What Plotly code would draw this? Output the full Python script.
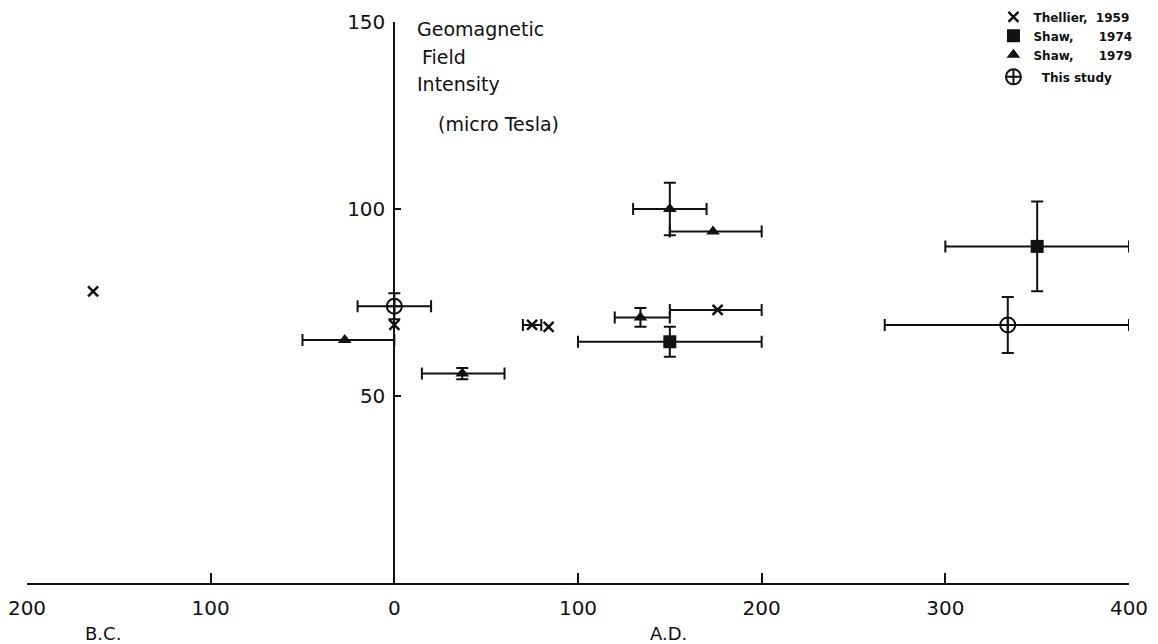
import plotly.graph_objects as go

# ---- data (year: negative = B.C., positive = A.D.; intensity in micro Tesla) ----
thellier_x = [-164, 0, 75, 84, 176]
thellier_y = [78, 69, 69, 68.5, 73]
thellier_ex_minus = [0, 0, 5, 0, 26]
thellier_ex_plus = [0, 0, 5, 0, 24]
thellier_ey = [0, 0, 0, 0, 0]

shaw74_x = [150, 350]
shaw74_y = [64.5, 90]
shaw74_ex_minus = [50, 50]
shaw74_ex_plus = [50, 50]
shaw74_ey = [4, 12]

shaw79_x = [-27, 37, 134, 150, 173.5]
shaw79_y = [65, 56, 71, 100, 94]
shaw79_ex_minus = [23, 22, 14, 20, 23.5]
shaw79_ex_plus = [27, 23, 16, 20, 26.5]
shaw79_ey = [0, 1.5, 2.5, 7, 0]

study_x = [0, 334]
study_y = [74, 69]
study_ex_minus = [20, 67]
study_ex_plus = [20, 66]
study_ey = [3.5, 7.5]

x_tickvals = [-200, -100, 0, 100, 200, 300, 400]
x_ticktext = ["200", "100", "0", "100", "200", "300", "400"]
y_tickvals = [50, 100, 150]
y_ticktext = ["50", "100", "150"]

FONT = "DejaVu Sans"
BLACK = "#111111"

series = [
    ("Thellier,\u00a0\u00a01959", "a", thellier_x, thellier_y, thellier_ex_minus, thellier_ex_plus, thellier_ey,
     dict(symbol="x-thin", size=10, line=dict(width=2.5, color=BLACK), color=BLACK)),
    ("Shaw,\u00a0\u00a0\u00a0\u00a0\u00a0\u00a01974", "a", shaw74_x, shaw74_y, shaw74_ex_minus, shaw74_ex_plus, shaw74_ey,
     dict(symbol="square", size=13, color=BLACK)),
    ("Shaw,\u00a0\u00a0\u00a0\u00a0\u00a0\u00a01979", "a", shaw79_x, shaw79_y, shaw79_ex_minus, shaw79_ex_plus, shaw79_ey,
     dict(symbol="triangle-up", size=12, color=BLACK)),
    ("\u00a0\u00a0This study", "b", study_x, study_y, study_ex_minus, study_ex_plus, study_ey,
     dict(symbol="circle-cross-open", size=15, line=dict(width=2, color=BLACK), color=BLACK)),
]

fig = go.Figure()
for name, grp, xs, ys, exm, exp, ey, mk in series:
    for i in range(len(xs)):
        has_ex = (exm[i] > 0 or exp[i] > 0)
        has_ey = ey[i] > 0
        fig.add_trace(go.Scatter(
            x=[xs[i]], y=[ys[i]], mode="markers", name=name,
            legendgroup=grp, showlegend=(i == 0),
            marker=mk,
            error_x=dict(type="data", symmetric=False, array=[exp[i]], arrayminus=[exm[i]],
                         visible=has_ex, color=BLACK, thickness=2, width=6),
            error_y=dict(type="data", array=[ey[i]], visible=has_ey,
                         color=BLACK, thickness=2, width=6),
        ))

# page body has an 8px margin: figure is shrunk by 8px and left/top margins shifted accordingly
fig.update_layout(
    width=1150, height=636,
    margin=dict(l=19, r=29, t=14, b=61, autoexpand=False),
    plot_bgcolor="white", paper_bgcolor="white",
    font=dict(family=FONT, color=BLACK),
    xaxis=dict(range=[-200, 400], domain=[0, 1], showgrid=False, zeroline=False,
               automargin=False, ticklabeloverflow="allow",
               showline=True, linewidth=2, linecolor=BLACK,
               ticks="inside", ticklen=10, tickwidth=2, tickcolor=BLACK,
               tickvals=x_tickvals, ticktext=x_ticktext, ticklabelstandoff=6,
               tickfont=dict(size=20, family=FONT, color=BLACK)),
    yaxis=dict(range=[0, 150], showgrid=False, zeroline=False,
               anchor="free", position=1/3, automargin=False,
               showline=True, linewidth=2, linecolor=BLACK,
               ticks="inside", ticklen=6, tickwidth=2, tickcolor=BLACK,
               tickvals=y_tickvals, ticktext=y_ticktext, ticklabelstandoff=4,
               tickfont=dict(size=20, family=FONT, color=BLACK)),
    legend=dict(x=0.877, y=1.035, xanchor="left", yanchor="top",
                traceorder="grouped", tracegroupgap=3,
                font=dict(size=12, family=FONT, color=BLACK, weight="bold"),
                bgcolor="rgba(0,0,0,0)"),
    showlegend=True,
)

title_lines = [("Geomagnetic", 415, 29), ("Field", 420, 57), ("Intensity", 415, 84), ("(micro Tesla)", 436, 124)]
for txt, px, py in title_lines:
    fig.add_annotation(text=txt, xref="paper", yref="paper",
                       x=(px - 27) / 1102, y=(583 - py) / 561,
                       xanchor="left", yanchor="middle", showarrow=False,
                       font=dict(size=19, family=FONT, color=BLACK))

for txt, px in [("B.C.", 103), ("A.D.", 668)]:
    fig.add_annotation(text=txt, xref="paper", yref="paper",
                       x=(px - 27) / 1102, y=(583 - 633) / 561,
                       xanchor="center", yanchor="middle", showarrow=False,
                       font=dict(size=18, family=FONT, color=BLACK))

fig.write_html("out.html")
